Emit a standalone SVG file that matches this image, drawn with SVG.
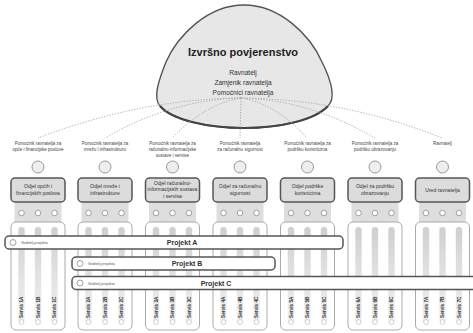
<svg xmlns="http://www.w3.org/2000/svg" width="473" height="333" viewBox="0 0 473 333">
  <defs>
    <linearGradient id="tube" x1="0" y1="0" x2="0" y2="1">
      <stop offset="0" stop-color="#cfcfcf"/>
      <stop offset="0.5" stop-color="#e2e2e2"/>
      <stop offset="1" stop-color="#f1f1f1"/>
    </linearGradient>
    <style>
      text { font-family: "Liberation Sans", Arial, sans-serif; fill: #333; }
      .head { fill: #e7e7e7; stroke: #555; stroke-width: 1.4; }
      .title { font-size: 11px; font-weight: bold; fill: #222; }
      .sub { font-size: 6.6px; text-anchor: middle; fill: #333; }
      .link { fill: none; stroke: #a8a8a8; stroke-width: 0.9; stroke-dasharray: 1.4 1.4; }
      .role { font-size: 4.5px; text-anchor: middle; fill: #444; }
      .seat { fill: #eeeeee; stroke: #999; stroke-width: 1; }
      .dept { fill: #dcdcdc; stroke: #555; stroke-width: 1.5; }
      .dtext { font-size: 5.1px; text-anchor: middle; fill: #333; }
      .band { fill: #dedede; }
      .knob { fill: #fff; stroke: #999; stroke-width: 0.9; }
      .panel { fill: #fff; stroke: #aaa; stroke-width: 1; }
      .tube { fill: url(#tube); }
      .tip { fill: #fff; stroke: #bbb; stroke-width: 0.7; }
      .svc { font-size: 4.7px; font-weight: bold; fill: #333; }
      .proj { fill: #fff; stroke: #555; stroke-width: 1.5; }
      .lead { fill: #fff; stroke: #999; stroke-width: 0.9; }
      .ltext { font-size: 3.8px; fill: #555; }
      .ptext { font-size: 7px; font-weight: bold; text-anchor: middle; fill: #333; }
    </style>
  </defs>

  <!-- executive board -->
  <g id="board">
    <path class="head" d="M 244,5 C 280,5 310,35 322,62 C 332,82 336,98 328,106 C 315,120 280,128 244,128 C 208,128 172,120 160,106 C 153,98 158,82 166,62 C 178,35 208,5 244,5 Z"/>
    <path d="M 160,106 C 172,120 208,128 244,128 C 280,128 315,120 328,106" fill="none" stroke="#444" stroke-width="2.2"/>
    <text class="title" x="243" y="56" text-anchor="middle">Izvršno povjerenstvo</text>
    <text class="sub" x="243" y="75">Ravnatelj</text>
    <text class="sub" x="243" y="85">Zamjenik ravnatelja</text>
    <text class="sub" x="243" y="95">Pomoćnici ravnatelja</text>
  </g>

  <!-- connectors -->
  <g id="connectors">
    <path class="link" d="M 241,98 Q 140,99 38,138"/>
    <path class="link" d="M 241,98 Q 170,100 105,138"/>
    <path class="link" d="M 241,98 Q 205,104 172,138"/>
    <path class="link" d="M 241,98 L 240,138"/>
    <path class="link" d="M 241,98 Q 277,104 307,138"/>
    <path class="link" d="M 241,98 Q 310,100 375,138"/>
    <path class="link" d="M 241,98 Q 345,99 442,138"/>
  </g>

  <!-- column 1 -->
  <g id="col1">
    <text class="role" x="38" y="145">Pomoćnik ravnatelja za</text>
    <text class="role" x="38" y="151">opće i financijske poslove</text>
    <circle class="seat" cx="38" cy="167" r="6"/>
    <rect class="band" x="14.5" y="200" width="47" height="23"/>
    <rect class="dept" x="11" y="178" width="54" height="24" rx="4"/>
    <text class="dtext" x="38" y="188">Odjel općih i</text>
    <text class="dtext" x="38" y="195">financijskih poslova</text>
    <circle class="knob" cx="21.5" cy="213" r="2.8"/><circle class="knob" cx="38" cy="213" r="2.8"/><circle class="knob" cx="54.5" cy="213" r="2.8"/>
    <rect class="panel" x="11" y="222" width="54" height="108" rx="5"/>
    <rect class="tube" x="18.3" y="227" width="6.4" height="96" rx="3.2"/><rect class="tube" x="34.8" y="227" width="6.4" height="96" rx="3.2"/><rect class="tube" x="51.3" y="227" width="6.4" height="96" rx="3.2"/>
    <circle class="tip" cx="21.5" cy="322" r="2.4"/><circle class="tip" cx="38" cy="322" r="2.4"/><circle class="tip" cx="54.5" cy="322" r="2.4"/>
    <text class="svc" transform="translate(23.2,318) rotate(-90)">Servis 1A</text>
    <text class="svc" transform="translate(39.7,318) rotate(-90)">Servis 1B</text>
    <text class="svc" transform="translate(56.2,318) rotate(-90)">Servis 1C</text>
  </g>

  <!-- column 2 -->
  <g id="col2">
    <text class="role" x="105" y="145">Pomoćnik ravnatelja za</text>
    <text class="role" x="105" y="151">mrežu i infrastrukturu</text>
    <circle class="seat" cx="105" cy="167" r="6"/>
    <rect class="band" x="81.5" y="200" width="47" height="23"/>
    <rect class="dept" x="78" y="178" width="54" height="24" rx="4"/>
    <text class="dtext" x="105" y="188">Odjel mreže i</text>
    <text class="dtext" x="105" y="195">infrastrukture</text>
    <circle class="knob" cx="88.5" cy="213" r="2.8"/><circle class="knob" cx="105" cy="213" r="2.8"/><circle class="knob" cx="121.5" cy="213" r="2.8"/>
    <rect class="panel" x="78" y="222" width="54" height="108" rx="5"/>
    <rect class="tube" x="85.3" y="227" width="6.4" height="96" rx="3.2"/><rect class="tube" x="101.8" y="227" width="6.4" height="96" rx="3.2"/><rect class="tube" x="118.3" y="227" width="6.4" height="96" rx="3.2"/>
    <circle class="tip" cx="88.5" cy="322" r="2.4"/><circle class="tip" cx="105" cy="322" r="2.4"/><circle class="tip" cx="121.5" cy="322" r="2.4"/>
    <text class="svc" transform="translate(90.2,318) rotate(-90)">Servis 2A</text>
    <text class="svc" transform="translate(106.7,318) rotate(-90)">Servis 2B</text>
    <text class="svc" transform="translate(123.2,318) rotate(-90)">Servis 2C</text>
  </g>

  <!-- column 3 -->
  <g id="col3">
    <text class="role" x="172.5" y="145">Pomoćnik ravnatelja za</text>
    <text class="role" x="172.5" y="151">računalno-informacijske</text>
    <text class="role" x="172.5" y="157">sustave i servise</text>
    <circle class="seat" cx="172.5" cy="167" r="6"/>
    <rect class="band" x="149" y="200" width="47" height="23"/>
    <rect class="dept" x="145.5" y="178" width="54" height="24" rx="4"/>
    <text class="dtext" x="172.5" y="184.5">Odjel računalno-</text>
    <text class="dtext" x="172.5" y="191">informacijskih sustava</text>
    <text class="dtext" x="172.5" y="197.5">i servisa</text>
    <circle class="knob" cx="156" cy="213" r="2.8"/><circle class="knob" cx="172.5" cy="213" r="2.8"/><circle class="knob" cx="189" cy="213" r="2.8"/>
    <rect class="panel" x="145.5" y="222" width="54" height="108" rx="5"/>
    <rect class="tube" x="152.8" y="227" width="6.4" height="96" rx="3.2"/><rect class="tube" x="169.3" y="227" width="6.4" height="96" rx="3.2"/><rect class="tube" x="185.8" y="227" width="6.4" height="96" rx="3.2"/>
    <circle class="tip" cx="156" cy="322" r="2.4"/><circle class="tip" cx="172.5" cy="322" r="2.4"/><circle class="tip" cx="189" cy="322" r="2.4"/>
    <text class="svc" transform="translate(157.7,318) rotate(-90)">Servis 3A</text>
    <text class="svc" transform="translate(174.2,318) rotate(-90)">Servis 3B</text>
    <text class="svc" transform="translate(190.7,318) rotate(-90)">Servis 3C</text>
  </g>

  <!-- column 4 -->
  <g id="col4">
    <text class="role" x="240" y="145">Pomoćnik ravnatelja</text>
    <text class="role" x="240" y="151">za računalnu sigurnost</text>
    <circle class="seat" cx="240" cy="167" r="6"/>
    <rect class="band" x="216.5" y="200" width="47" height="23"/>
    <rect class="dept" x="213" y="178" width="54" height="24" rx="4"/>
    <text class="dtext" x="240" y="188">Odjel za računalnu</text>
    <text class="dtext" x="240" y="195">sigurnost</text>
    <circle class="knob" cx="223.5" cy="213" r="2.8"/><circle class="knob" cx="240" cy="213" r="2.8"/><circle class="knob" cx="256.5" cy="213" r="2.8"/>
    <rect class="panel" x="213" y="222" width="54" height="108" rx="5"/>
    <rect class="tube" x="220.3" y="227" width="6.4" height="96" rx="3.2"/><rect class="tube" x="236.8" y="227" width="6.4" height="96" rx="3.2"/><rect class="tube" x="253.3" y="227" width="6.4" height="96" rx="3.2"/>
    <circle class="tip" cx="223.5" cy="322" r="2.4"/><circle class="tip" cx="240" cy="322" r="2.4"/><circle class="tip" cx="256.5" cy="322" r="2.4"/>
    <text class="svc" transform="translate(225.2,318) rotate(-90)">Servis 4A</text>
    <text class="svc" transform="translate(241.7,318) rotate(-90)">Servis 4B</text>
    <text class="svc" transform="translate(258.2,318) rotate(-90)">Servis 4C</text>
  </g>

  <!-- column 5 -->
  <g id="col5">
    <text class="role" x="307.5" y="145">Pomoćnik ravnatelja za</text>
    <text class="role" x="307.5" y="151">podršku korisnicima</text>
    <circle class="seat" cx="307.5" cy="167" r="6"/>
    <rect class="band" x="284" y="200" width="47" height="23"/>
    <rect class="dept" x="280.5" y="178" width="54" height="24" rx="4"/>
    <text class="dtext" x="307.5" y="188">Odjel podrške</text>
    <text class="dtext" x="307.5" y="195">korisnicima</text>
    <circle class="knob" cx="291" cy="213" r="2.8"/><circle class="knob" cx="307.5" cy="213" r="2.8"/><circle class="knob" cx="324" cy="213" r="2.8"/>
    <rect class="panel" x="280.5" y="222" width="54" height="108" rx="5"/>
    <rect class="tube" x="287.8" y="227" width="6.4" height="96" rx="3.2"/><rect class="tube" x="304.3" y="227" width="6.4" height="96" rx="3.2"/><rect class="tube" x="320.8" y="227" width="6.4" height="96" rx="3.2"/>
    <circle class="tip" cx="291" cy="322" r="2.4"/><circle class="tip" cx="307.5" cy="322" r="2.4"/><circle class="tip" cx="324" cy="322" r="2.4"/>
    <text class="svc" transform="translate(292.7,318) rotate(-90)">Servis 5A</text>
    <text class="svc" transform="translate(309.2,318) rotate(-90)">Servis 5B</text>
    <text class="svc" transform="translate(325.7,318) rotate(-90)">Servis 5C</text>
  </g>

  <!-- column 6 -->
  <g id="col6">
    <text class="role" x="375" y="145">Pomoćnik ravnatelja za</text>
    <text class="role" x="375" y="151">podršku obrazovanju</text>
    <circle class="seat" cx="375" cy="167" r="6"/>
    <rect class="band" x="351.5" y="200" width="47" height="23"/>
    <rect class="dept" x="348" y="178" width="54" height="24" rx="4"/>
    <text class="dtext" x="375" y="188">Odjel za podršku</text>
    <text class="dtext" x="375" y="195">obrazovanju</text>
    <circle class="knob" cx="358.5" cy="213" r="2.8"/><circle class="knob" cx="375" cy="213" r="2.8"/><circle class="knob" cx="391.5" cy="213" r="2.8"/>
    <rect class="panel" x="348" y="222" width="54" height="108" rx="5"/>
    <rect class="tube" x="355.3" y="227" width="6.4" height="96" rx="3.2"/><rect class="tube" x="371.8" y="227" width="6.4" height="96" rx="3.2"/><rect class="tube" x="388.3" y="227" width="6.4" height="96" rx="3.2"/>
    <circle class="tip" cx="358.5" cy="322" r="2.4"/><circle class="tip" cx="375" cy="322" r="2.4"/><circle class="tip" cx="391.5" cy="322" r="2.4"/>
    <text class="svc" transform="translate(360.2,318) rotate(-90)">Servis 6A</text>
    <text class="svc" transform="translate(376.7,318) rotate(-90)">Servis 6B</text>
    <text class="svc" transform="translate(393.2,318) rotate(-90)">Servis 6C</text>
  </g>

  <!-- column 7 -->
  <g id="col7">
    <text class="role" x="442.5" y="145">Ravnatelj</text>
    <circle class="seat" cx="442.5" cy="167" r="6"/>
    <rect class="band" x="419" y="200" width="47" height="23"/>
    <rect class="dept" x="415.5" y="178" width="54" height="24" rx="4"/>
    <text class="dtext" x="442.5" y="191.5">Ured ravnatelja</text>
    <circle class="knob" cx="426" cy="213" r="2.8"/><circle class="knob" cx="442.5" cy="213" r="2.8"/><circle class="knob" cx="459" cy="213" r="2.8"/>
    <rect class="panel" x="415.5" y="222" width="54" height="108" rx="5"/>
    <rect class="tube" x="422.8" y="227" width="6.4" height="96" rx="3.2"/><rect class="tube" x="439.3" y="227" width="6.4" height="96" rx="3.2"/><rect class="tube" x="455.8" y="227" width="6.4" height="96" rx="3.2"/>
    <circle class="tip" cx="426" cy="322" r="2.4"/><circle class="tip" cx="442.5" cy="322" r="2.4"/><circle class="tip" cx="459" cy="322" r="2.4"/>
    <text class="svc" transform="translate(427.7,318) rotate(-90)">Servis 7A</text>
    <text class="svc" transform="translate(444.2,318) rotate(-90)">Servis 7B</text>
    <text class="svc" transform="translate(460.7,318) rotate(-90)">Servis 7C</text>
  </g>

  <!-- projects -->
  <g id="projektA">
    <rect class="proj" x="5" y="236" width="338" height="13" rx="4"/>
    <circle class="lead" cx="13" cy="242.5" r="3"/>
    <text class="ltext" x="21" y="244">Voditelj projekta</text>
    <text class="ptext" x="182" y="245">Projekt A</text>
  </g>
  <g id="projektB">
    <rect class="proj" x="72" y="257" width="203" height="13" rx="4"/>
    <circle class="lead" cx="80" cy="263.5" r="3"/>
    <text class="ltext" x="88" y="265">Voditelj projekta</text>
    <text class="ptext" x="187" y="266">Projekt B</text>
  </g>
  <g id="projektC">
    <rect class="proj" x="72" y="276.5" width="420" height="13" rx="4"/>
    <circle class="lead" cx="80" cy="283" r="3"/>
    <text class="ltext" x="88" y="284.5">Voditelj projekta</text>
    <text class="ptext" x="216" y="285.5">Projekt C</text>
  </g>
</svg>
